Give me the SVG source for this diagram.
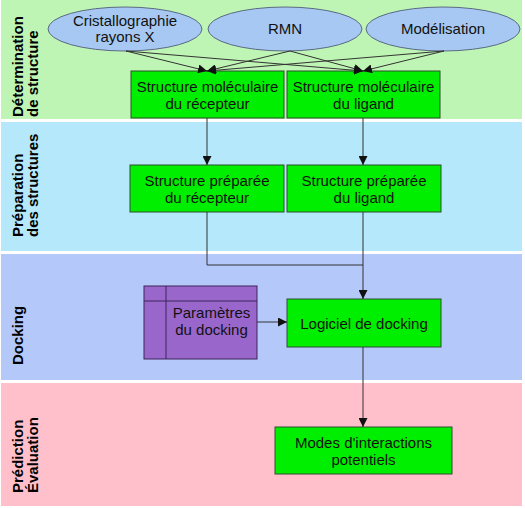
<svg xmlns="http://www.w3.org/2000/svg" width="525" height="508" viewBox="0 0 525 508">
<style>
.lane-label{font-family:"Liberation Sans",Arial,sans-serif;font-size:15px;font-weight:bold;fill:#000}
.t{font-family:"Liberation Sans",Arial,sans-serif;font-size:15px;fill:#111;text-anchor:middle}
.src{fill:#a6c8f2;stroke:#5a6a84;stroke-width:1}
.box{fill:#00ee00;stroke:#2d4f2d;stroke-width:1}
.param{fill:#9966cc;stroke:#3c2458;stroke-width:1}
.conn{fill:none;stroke:#333;stroke-width:1}
</style>
<defs>
<marker id="arr" viewBox="0 0 10 10" refX="10" refY="5" markerWidth="9" markerHeight="9" markerUnits="userSpaceOnUse" orient="auto">
<path d="M0,0 L10,5 L0,10 z" fill="#111"/>
</marker>
</defs>
<g id="lanes">
<rect x="1" y="0" width="521" height="119" fill="#bef5b4"/>
<rect x="1" y="122" width="521" height="129" fill="#b4e8fa"/>
<rect x="1" y="254" width="521" height="126" fill="#b4c8fa"/>
<rect x="1" y="383" width="521" height="123" fill="#ffc0cb"/>
<text class="lane-label" transform="translate(23,117) rotate(-90)">Détermination</text>
<text class="lane-label" transform="translate(38,117) rotate(-90)">de structure</text>
<text class="lane-label" transform="translate(23,237) rotate(-90)">Préparation</text>
<text class="lane-label" transform="translate(38,237) rotate(-90)">des structures</text>
<text class="lane-label" transform="translate(23,365) rotate(-90)">Docking</text>
<text class="lane-label" transform="translate(23,493) rotate(-90)">Prédiction</text>
<text class="lane-label" transform="translate(38,493) rotate(-90)">Évaluation</text>
</g>
<g id="n-cristallo">
<ellipse class="src" cx="125" cy="29" rx="77" ry="22"/>
<text class="t" x="125" y="25.5">Cristallographie</text>
<text class="t" x="125" y="42">rayons X</text>
</g>
<g id="n-rmn">
<ellipse class="src" cx="285" cy="29" rx="77" ry="22"/>
<text class="t" x="285" y="34">RMN</text>
</g>
<g id="n-modelisation">
<ellipse class="src" cx="443" cy="29" rx="77" ry="22"/>
<text class="t" x="443" y="34">Modélisation</text>
</g>
<g id="n-mol-recepteur">
<rect class="box" x="131" y="71" width="153" height="47"/>
<text class="t" x="207.5" y="91.5">Structure moléculaire</text>
<text class="t" x="207.5" y="108.5">du récepteur</text>
</g>
<g id="n-mol-ligand">
<rect class="box" x="287" y="71" width="153" height="47"/>
<text class="t" x="363.5" y="91.5">Structure moléculaire</text>
<text class="t" x="363.5" y="108.5">du ligand</text>
</g>
<g id="n-prep-recepteur">
<rect class="box" x="130" y="165" width="154" height="47"/>
<text class="t" x="207" y="185.5">Structure préparée</text>
<text class="t" x="207" y="202.5">du récepteur</text>
</g>
<g id="n-prep-ligand">
<rect class="box" x="287" y="165" width="154" height="47"/>
<text class="t" x="364" y="185.5">Structure préparée</text>
<text class="t" x="364" y="202.5">du ligand</text>
</g>
<g id="n-parametres">
<rect class="param" x="144" y="286" width="113" height="73"/>
<line x1="166" y1="286" x2="166" y2="359" stroke="#3c2458" stroke-width="1"/>
<line x1="144" y1="301" x2="257" y2="301" stroke="#3c2458" stroke-width="1"/>
<text class="t" x="211.5" y="318" fill="#222">Paramètres</text>
<text class="t" x="211.5" y="335" fill="#222">du docking</text>
</g>
<g id="n-logiciel">
<rect class="box" x="287" y="299" width="154" height="48"/>
<text class="t" x="364" y="328.5">Logiciel de docking</text>
</g>
<g id="n-modes">
<rect class="box" x="275" y="427" width="177" height="47"/>
<text class="t" x="363.5" y="447.5">Modes d'interactions</text>
<text class="t" x="363.5" y="464.5">potentiels</text>
</g>
<g id="connectors">
<line class="conn" x1="126" y1="51" x2="207" y2="71" marker-end="url(#arr)"/>
<line class="conn" x1="126" y1="51" x2="363" y2="71" marker-end="url(#arr)"/>
<line class="conn" x1="290" y1="51" x2="207" y2="71" marker-end="url(#arr)"/>
<line class="conn" x1="290" y1="51" x2="363" y2="71" marker-end="url(#arr)"/>
<line class="conn" x1="444" y1="51" x2="207" y2="71" marker-end="url(#arr)"/>
<line class="conn" x1="444" y1="51" x2="363" y2="71" marker-end="url(#arr)"/>
<line class="conn" x1="207" y1="118" x2="207" y2="165" marker-end="url(#arr)"/>
<line class="conn" x1="363" y1="118" x2="363" y2="165" marker-end="url(#arr)"/>
<polyline class="conn" points="207,212 207,265 363,265"/>
<line class="conn" x1="363" y1="212" x2="363" y2="299" marker-end="url(#arr)"/>
<line class="conn" x1="257" y1="322" x2="287" y2="322" marker-end="url(#arr)"/>
<line class="conn" x1="363" y1="347" x2="363" y2="427" marker-end="url(#arr)"/>
</g>
</svg>
